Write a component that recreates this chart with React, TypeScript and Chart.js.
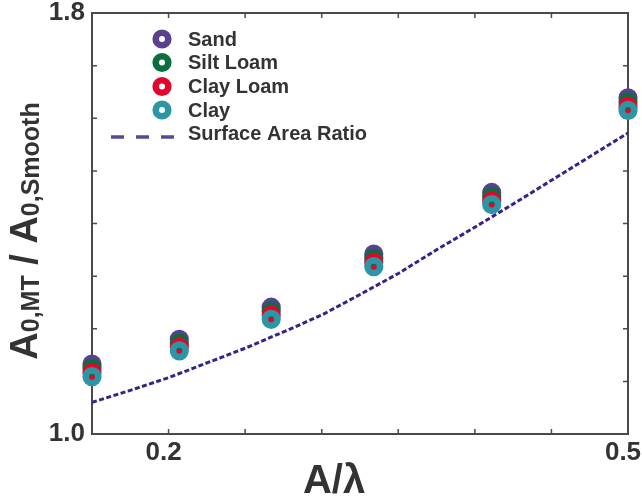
import React, { useEffect, useRef } from 'react';
import { Chart, registerables } from 'chart.js';

Chart.register(...registerables);

// ---- Data ----
const xValues = [0.15, 0.207, 0.267, 0.334, 0.411, 0.5];
const sand = [1.133, 1.180, 1.241, 1.342, 1.459, 1.639];
const siltLoam = [1.125, 1.173, 1.233, 1.334, 1.451, 1.631];
const clayLoam = [1.117, 1.165, 1.226, 1.326, 1.443, 1.623];
const clay = [1.109, 1.158, 1.218, 1.318, 1.436, 1.615];

const ratioX = [0.15, 0.175, 0.2, 0.225, 0.25, 0.275, 0.3, 0.325, 0.35, 0.375, 0.4, 0.425, 0.45, 0.475, 0.5];
const ratioY = [1.060, 1.083, 1.107, 1.135, 1.163, 1.194, 1.226, 1.265, 1.305, 1.350, 1.393, 1.437, 1.482, 1.527, 1.572];

const seriesNames = ['Sand', 'Silt Loam', 'Clay Loam', 'Clay'];
const lineName = 'Surface Area Ratio';
const xTickLabels = ['0.2', '0.5'];
const yTickLabels = ['1.0', '1.8'];

const COLORS = ['#5a4190', '#0a6e3e', '#e2062d', '#2c96a4'];
const LINE_COLOR = '#3a2088';
const LEGEND_LINE_COLOR = '#5c4793';
const TEXT = '#333333';
const FONT = '"Liberation Sans", Arial, Helvetica, sans-serif';

const findLabel = (labels: string[], v: number) => {
  const hit = labels.find((l) => Math.abs(parseFloat(l) - v) < 1e-6);
  return hit ?? '';
};

const framePlugin = {
  id: 'frameTicks',
  beforeDatasetsDraw(chart: any) {
    const { ctx, chartArea, scales } = chart;
    const { left, right, top, bottom } = chartArea;
    ctx.save();
    ctx.strokeStyle = '#4a4a4a';
    ctx.lineWidth = 2;
    ctx.strokeRect(left, top, right - left, bottom - top);
    ctx.lineWidth = 1.5;
    ctx.beginPath();
    const xs = scales.x;
    xs.ticks.forEach((t: any) => {
      if (t.value <= xs.min + 1e-9 || t.value >= xs.max - 1e-9) return;
      const px = xs.getPixelForValue(t.value);
      ctx.moveTo(px, bottom);
      ctx.lineTo(px, bottom - 5);
      ctx.moveTo(px, top);
      ctx.lineTo(px, top + 5);
    });
    const ys = scales.y;
    ys.ticks.forEach((t: any) => {
      if (t.value <= ys.min + 1e-9 || t.value >= ys.max - 1e-9) return;
      const py = ys.getPixelForValue(t.value);
      ctx.moveTo(left, py);
      ctx.lineTo(left + 5, py);
      ctx.moveTo(right, py);
      ctx.lineTo(right - 5, py);
    });
    ctx.stroke();
    ctx.restore();
  },
  afterDraw(chart: any) {
    const { ctx } = chart;
    ctx.save();
    // ---- Legend ----
    const legendX = 162;
    const textX = 188;
    const rowsY = [39, 62.5, 86.5, 110];
    ctx.font = `bold 20px ${FONT}`;
    ctx.textBaseline = 'middle';
    ctx.textAlign = 'left';
    seriesNames.forEach((name, i) => {
      ctx.beginPath();
      ctx.arc(legendX, rowsY[i], 6.3, 0, Math.PI * 2);
      ctx.strokeStyle = COLORS[i];
      ctx.lineWidth = 6.6;
      ctx.stroke();
      ctx.fillStyle = TEXT;
      ctx.fillText(name, textX, rowsY[i] + 1);
    });
    ctx.beginPath();
    ctx.setLineDash([13, 12]);
    ctx.strokeStyle = LEGEND_LINE_COLOR;
    ctx.lineWidth = 3.5;
    ctx.moveTo(111, 137);
    ctx.lineTo(175, 137);
    ctx.stroke();
    ctx.setLineDash([]);
    ctx.fillStyle = TEXT;
    ctx.fillText(lineName, textX, 134.5);

    // ---- X title ----
    ctx.font = `bold 40px ${FONT}`;
    ctx.textAlign = 'center';
    ctx.textBaseline = 'alphabetic';
    ctx.fillText('A/λ', 334, 493);

    // ---- Y title with subscripts ----
    const big = `bold 38px ${FONT}`;
    const small = `bold 25px ${FONT}`;
    const parts: [string, string, number][] = [
      ['A', big, 0],
      ['0,MT', small, 2],
      [' / ', big, 0],
      ['A', big, 0],
      ['0,Smooth', small, 2],
    ];
    let total = 0;
    parts.forEach(([t, f]) => {
      ctx.font = f;
      total += ctx.measureText(t).width;
    });
    ctx.translate(37, 231);
    ctx.rotate(-Math.PI / 2);
    ctx.textAlign = 'left';
    let cx = -total / 2;
    parts.forEach(([t, f, dy]) => {
      ctx.font = f;
      ctx.fillText(t, cx, dy);
      cx += ctx.measureText(t).width;
    });
    ctx.restore();
  },
};

export default function App() {
  const canvasRef = useRef<HTMLCanvasElement | null>(null);

  useEffect(() => {
    if (!canvasRef.current) return;
    const pointSet = (ys: number[]) => xValues.map((x, i) => ({ x, y: ys[i] }));
    const seriesData = [sand, siltLoam, clayLoam, clay];
    const scatterSets = seriesData.map((ys, i) => ({
      type: 'scatter' as const,
      label: seriesNames[i],
      data: pointSet(ys),
      pointRadius: 6.3,
      pointHoverRadius: 6.3,
      pointBorderWidth: 6.6,
      borderColor: COLORS[i],
      backgroundColor: 'rgba(0,0,0,0)',
      pointBackgroundColor: 'rgba(0,0,0,0)',
      pointBorderColor: COLORS[i],
      showLine: false,
      clip: false as any,
      order: 4 - i,
    }));
    const lineSet = {
      type: 'line' as const,
      label: lineName,
      data: ratioX.map((x, i) => ({ x, y: ratioY[i] })),
      borderColor: LINE_COLOR,
      borderWidth: 3,
      borderDash: [5, 2.5],
      pointRadius: 0,
      tension: 0,
      fill: false,
      order: 10,
    };

    const chart = new Chart(canvasRef.current, {
      type: 'scatter',
      data: { datasets: [lineSet as any, ...scatterSets] },
      options: {
        animation: false,
        responsive: false,
        events: [],
        layout: { padding: { left: 0, top: 13, right: 14, bottom: 0 } },
        plugins: { legend: { display: false }, tooltip: { enabled: false }, title: { display: false } },
        scales: {
          x: {
            type: 'linear',
            min: 0.15,
            max: 0.5,
            grid: { display: false, drawTicks: false },
            border: { display: false },
            ticks: {
              stepSize: 0.05,
              autoSkip: false,
              maxRotation: 0,
              padding: 3,
              labelOffset: -5,
              color: TEXT,
              font: { family: FONT, size: 26, weight: 'bold' },
              callback: (v: any) => findLabel(xTickLabels, Number(v)),
            },
            afterFit: (s: any) => {
              s.height = 65;
              s.paddingLeft = 0;
              s.paddingRight = 0;
            },
          },
          y: {
            type: 'linear',
            min: 1.0,
            max: 1.8,
            grid: { display: false, drawTicks: false },
            border: { display: false },
            ticks: {
              stepSize: 0.1,
              autoSkip: false,
              padding: 7,
              color: TEXT,
              font: { family: FONT, size: 26, weight: 'bold' },
              callback: (v: any) => findLabel(yTickLabels, Number(v)),
            },
            afterFit: (s: any) => {
              s.width = 92;
              s.paddingTop = 0;
              s.paddingBottom = 0;
            },
          },
        },
      } as any,
      plugins: [framePlugin],
    });
    return () => chart.destroy();
  }, []);

  return (
    <div style={{ position: 'fixed', left: 0, top: 0, width: 642, height: 499, background: '#fff' }}>
      <canvas ref={canvasRef} width={642} height={499} style={{ display: 'block' }} />
    </div>
  );
}
